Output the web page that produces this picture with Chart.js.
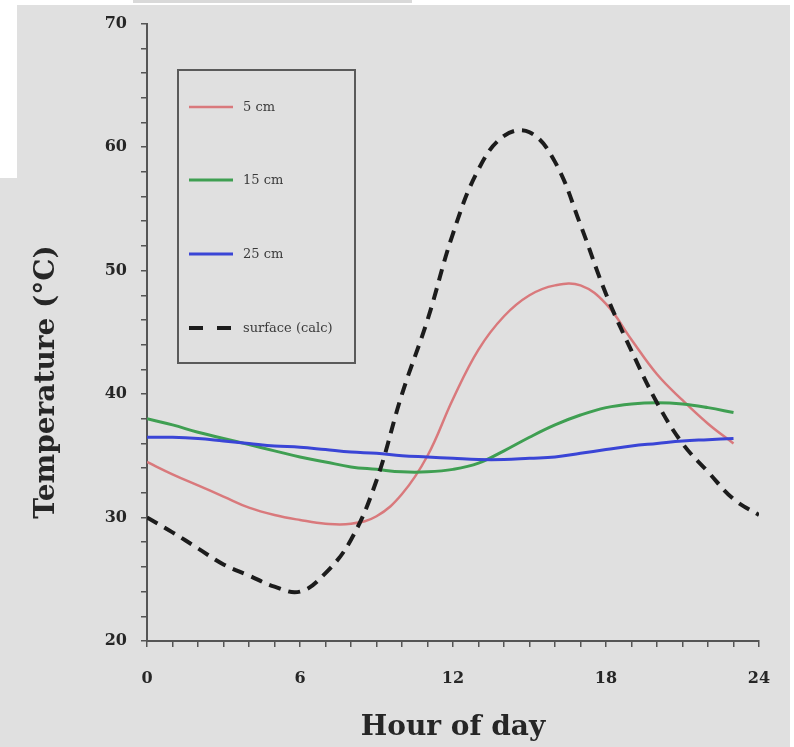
<!DOCTYPE html>
<html>
<head>
<meta charset="utf-8">
<script src="https://cdn.jsdelivr.net/npm/chart.js@4"></script>
<style>
  html, body { margin: 0; padding: 0; background: #ffffff; }
  #wrap { width: 794px; height: 747px; }
</style>
</head>
<body>
<div id="wrap"><canvas id="c" width="794" height="747"></canvas></div>
<script>
// Hour of day for the measured depths and for the calculated surface curve
const hours = [0, 1, 2, 3, 4, 5, 6, 7, 8, 9, 10, 11, 12, 13, 14, 15, 16, 17, 18, 19, 20, 21, 22, 23];
const surfaceHours = [0, 1, 2, 3, 4, 5, 6, 7, 8, 9, 10, 11, 12, 13, 14, 15, 16, 17, 18, 19, 20, 21, 22, 23, 24];

// Soil temperature (°C) at each depth
const temp5cm  = [34.5, 33.5, 32.6, 31.7, 30.8, 30.2, 29.8, 29.5, 29.5, 30.1, 31.9, 35.0, 39.6, 43.6, 46.3, 48.0, 48.8, 48.8, 47.3, 44.4, 41.6, 39.5, 37.6, 36.0];
const temp15cm = [38.0, 37.5, 36.9, 36.4, 35.9, 35.4, 34.9, 34.5, 34.1, 33.9, 33.7, 33.7, 33.9, 34.4, 35.4, 36.5, 37.5, 38.3, 38.9, 39.2, 39.3, 39.2, 38.9, 38.5];
const temp25cm = [36.5, 36.5, 36.4, 36.2, 36.0, 35.8, 35.7, 35.5, 35.3, 35.2, 35.0, 34.9, 34.8, 34.7, 34.7, 34.8, 34.9, 35.2, 35.5, 35.8, 36.0, 36.2, 36.3, 36.4];
const tempSurface = [30.0, 28.8, 27.5, 26.2, 25.3, 24.4, 24.0, 25.5, 28.2, 33.0, 40.0, 46.0, 53.0, 58.2, 60.9, 61.2, 58.8, 53.7, 48.1, 43.5, 39.3, 36.0, 33.7, 31.5, 30.2];

// Series names shown in the legend box
const seriesLabels = ['5 cm', '15 cm', '25 cm', 'surface (calc)'];

// Axis tick labels and titles
const xTickLabels = [0, 6, 12, 18, 24];
const yTickLabels = [20, 30, 40, 50, 60, 70];
const xTitle = 'Hour of day';
const yTitle = 'Temperature (°C)';

const toPoints = (xs, ys) => xs.map((x, i) => ({ x: x, y: ys[i] }));

const AXIS_COLOR = '#555555';
const TEXT_COLOR = '#262626';
const SERIF = '"DejaVu Serif", serif';

// Page backdrop: grey panel with white margins
const backdrop = {
  id: 'backdrop',
  beforeDraw(chart) {
    const ctx = chart.ctx;
    ctx.save();
    ctx.fillStyle = '#e0e0e0';
    ctx.fillRect(0, 0, chart.width, chart.height);
    ctx.fillStyle = '#ffffff';
    ctx.fillRect(0, 0, chart.width, 5);
    ctx.fillRect(0, 0, 17, 178);
    ctx.fillRect(790, 0, 4, chart.height);
    ctx.fillStyle = '#d9d9d9';
    ctx.fillRect(133, 0, 279, 3);
    ctx.restore();
  }
};

// Vertical axis title, placed a little below the axis midpoint
const sideTitle = {
  id: 'sideTitle',
  afterDraw(chart) {
    const ctx = chart.ctx;
    ctx.save();
    ctx.translate(47, 382);
    ctx.rotate(-Math.PI / 2);
    ctx.fillStyle = TEXT_COLOR;
    ctx.font = 'bold 28px ' + SERIF;
    ctx.textAlign = 'center';
    ctx.textBaseline = 'middle';
    ctx.fillText(yTitle, 0, 0);
    ctx.restore();
  }
};

// Framed legend inside the plot area
const boxLegend = {
  id: 'boxLegend',
  afterDraw(chart) {
    const ctx = chart.ctx;
    const rows = [107, 180, 254, 328];
    ctx.save();
    ctx.strokeStyle = '#5a5a5a';
    ctx.lineWidth = 2;
    ctx.strokeRect(178, 70, 177, 293);
    chart.data.datasets.forEach((ds, i) => {
      const y = rows[i];
      ctx.strokeStyle = ds.borderColor;
      ctx.lineWidth = ds.borderWidth;
      ctx.setLineDash(ds.borderDash ? [14, 14] : []);
      ctx.beginPath();
      ctx.moveTo(189, y);
      ctx.lineTo(233, y);
      ctx.stroke();
      ctx.setLineDash([]);
      ctx.fillStyle = '#3a3a3a';
      ctx.font = '13px ' + SERIF;
      ctx.textBaseline = 'middle';
      ctx.textAlign = 'left';
      ctx.fillText(ds.label, 243, y + 1);
    });
    ctx.restore();
  }
};

new Chart(document.getElementById('c'), {
  type: 'line',
  data: {
    datasets: [
      { label: seriesLabels[0], data: toPoints(hours, temp5cm), borderColor: '#d9797c', borderWidth: 2.5, order: 3 },
      { label: seriesLabels[1], data: toPoints(hours, temp15cm), borderColor: '#3f9f52', borderWidth: 3, order: 2 },
      { label: seriesLabels[2], data: toPoints(hours, temp25cm), borderColor: '#3a45d6', borderWidth: 3, order: 1 },
      { label: seriesLabels[3], data: toPoints(surfaceHours, tempSurface), borderColor: '#1c1c1c', borderWidth: 4, borderDash: [12, 8], order: 0 }
    ]
  },
  options: {
    responsive: false,
    animation: false,
    devicePixelRatio: 1,
    layout: { padding: { left: 0, top: 22, right: 35, bottom: 0 } },
    elements: {
      point: { radius: 0, hoverRadius: 0 },
      line: { tension: 0.4, fill: false }
    },
    plugins: {
      legend: { display: false },
      tooltip: { enabled: false }
    },
    scales: {
      x: {
        type: 'linear',
        min: 0,
        max: 24,
        afterFit(scale) { scale.height = 106; },
        border: { display: true, color: AXIS_COLOR, width: 2 },
        grid: { drawOnChartArea: false, drawTicks: true, tickLength: 6, color: AXIS_COLOR, lineWidth: 1.5 },
        ticks: {
          stepSize: 1,
          autoSkip: false,
          maxRotation: 0,
          padding: 22,
          color: TEXT_COLOR,
          font: { family: SERIF, size: 16, weight: 'bold' },
          callback: (v) => xTickLabels.includes(v) ? String(v) : ''
        },
        title: {
          display: true,
          text: xTitle,
          color: TEXT_COLOR,
          font: { family: SERIF, size: 28, weight: 'bold' },
          padding: { top: 0, bottom: 2 }
        }
      },
      y: {
        type: 'linear',
        min: 20,
        max: 70,
        afterFit(scale) { scale.width = 147; },
        border: { display: true, color: AXIS_COLOR, width: 2 },
        grid: { drawOnChartArea: false, drawTicks: true, tickLength: 6, color: AXIS_COLOR, lineWidth: 1.5 },
        ticks: {
          stepSize: 2,
          autoSkip: false,
          padding: 14,
          color: TEXT_COLOR,
          font: { family: SERIF, size: 16, weight: 'bold' },
          callback: (v) => yTickLabels.includes(v) ? String(v) : ''
        }
      }
    }
  },
  plugins: [backdrop, sideTitle, boxLegend]
});
</script>
</body>
</html>
